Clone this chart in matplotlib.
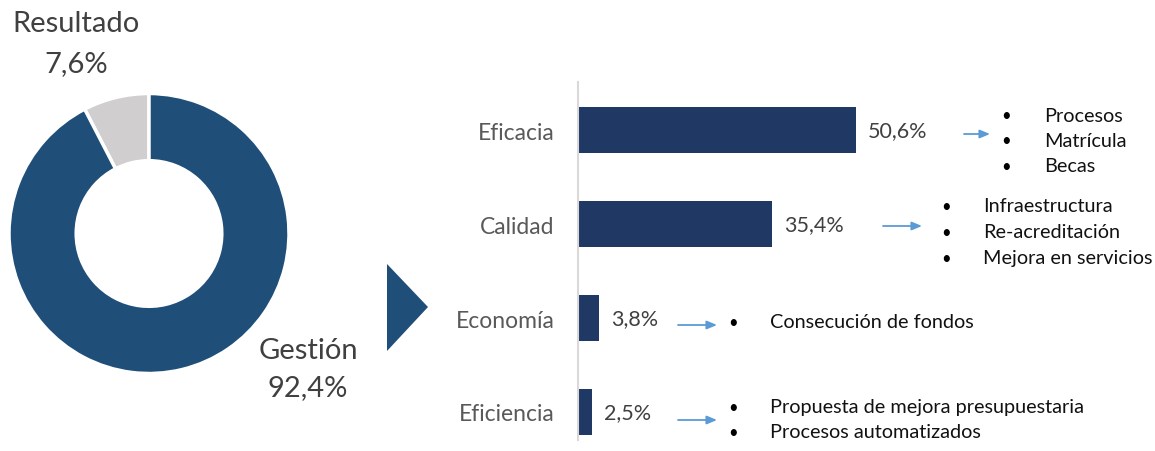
import matplotlib.pyplot as plt
from matplotlib.patches import Polygon

# donut data
donut_labels = ["Resultado", "Gestión"]
donut_values = [7.6, 92.4]
donut_colors = ["#D0CECE", "#1F4E79"]

# bar data
categories = ["Eficacia", "Calidad", "Economía", "Eficiencia"]
bar_values = [50.6, 35.4, 3.8, 2.5]
bar_items = [
    ["Procesos", "Matrícula", "Becas"],
    ["Infraestructura", "Re-acreditación", "Mejora en servicios"],
    ["Consecución de fondos"],
    ["Propuesta de mejora presupuestaria", "Procesos automatizados"],
]

W, H = 1155, 452
plt.rcParams['font.family'] = ['Lato', 'DejaVu Sans']


def fmt(v):
    return ("%.1f%%" % v).replace(".", ",")


fig = plt.figure(figsize=(W / 100, H / 100), dpi=100)

# overlay in pixel coords for annotations
ov = fig.add_axes([0, 0, 1, 1])
ov.set_xlim(0, W)
ov.set_ylim(H, 0)
ov.axis("off")

# donut
cx, cy, r = 149, 234.5, 140
ax1 = fig.add_axes([(cx - r) / W, (H - cy - r) / H, 2 * r / W, 2 * r / H])
ax1.pie(donut_values, colors=donut_colors, startangle=90, counterclock=True,
        radius=1, wedgeprops=dict(width=0.48, edgecolor="white", linewidth=2.5))
ax1.set_xlim(-1, 1)
ax1.set_ylim(-1, 1)
ax1.axis("off")

ov.text(76, 24, donut_labels[0], fontsize=21, color="#404040", ha="center", va="center")
ov.text(76, 64, fmt(donut_values[0]), fontsize=21, color="#404040", ha="center", va="center")
ov.text(308, 351, donut_labels[1], fontsize=21, color="#404040", ha="center", va="center")
ov.text(308, 388, fmt(donut_values[1]), fontsize=21, color="#404040", ha="center", va="center")

# triangle pointer
ov.add_patch(Polygon([[387, 265], [428, 308], [387, 352]], closed=True,
                     facecolor="#1F4E79", edgecolor="none"))

# bar chart
x0, px_per_unit = 578, 5.49
top, bottom, first_c, step = 83, 441, 131, 94
ax_w = 560
ax2 = fig.add_axes([x0 / W, (H - bottom) / H, ax_w / W, (bottom - top) / H])
ax2.patch.set_alpha(0)
pos = list(range(len(categories)))
ax2.barh(pos, bar_values, height=0.49, color="#203864")
ax2.set_xlim(0, ax_w / px_per_unit)
ax2.set_ylim(3 + (bottom - (first_c + 3 * step)) / step, -(first_c - top) / step)
for s in ["top", "right", "bottom"]:
    ax2.spines[s].set_visible(False)
ax2.spines["left"].set_color("#D9D9D9")
ax2.spines["left"].set_linewidth(1.5)
ax2.set_xticks([])
ax2.set_yticks(pos)
ax2.set_yticklabels(categories, fontsize=16.5, color="#595959")
ax2.tick_params(axis="y", length=0, pad=17)

for i, v in enumerate(bar_values):
    ax2.annotate(fmt(v), (v, i), xytext=(8.5, 0), textcoords="offset points",
                 fontsize=15.5, color="#404040", va="center", ha="left")

# arrows and bullet lists (pixel positions)
arrows = [(964, 990, 135), (883, 922, 227), (678, 717, 326), (678, 717, 421)]
bullet_x = [1006, 946, 733, 733]
text_x = [1044, 983, 770, 770]
row_y = [[116, 141.5, 167], [207, 233, 259], [323], [408, 433]]
for i in range(len(categories)):
    xa, xb, ya = arrows[i]
    ov.annotate("", xy=(xb, ya), xytext=(xa, ya),
                arrowprops=dict(arrowstyle="-|>,head_length=0.6,head_width=0.25",
                                color="#5B9BD5", lw=1.3, shrinkA=0, shrinkB=0))
    for item, y in zip(bar_items[i], row_y[i]):
        ov.text(bullet_x[i], y, "•", fontsize=12, color="black", ha="center", va="center")
        ov.text(text_x[i], y, item, fontsize=14.3, color="#111111", ha="left", va="center")

fig.savefig("out.png", dpi=100)
